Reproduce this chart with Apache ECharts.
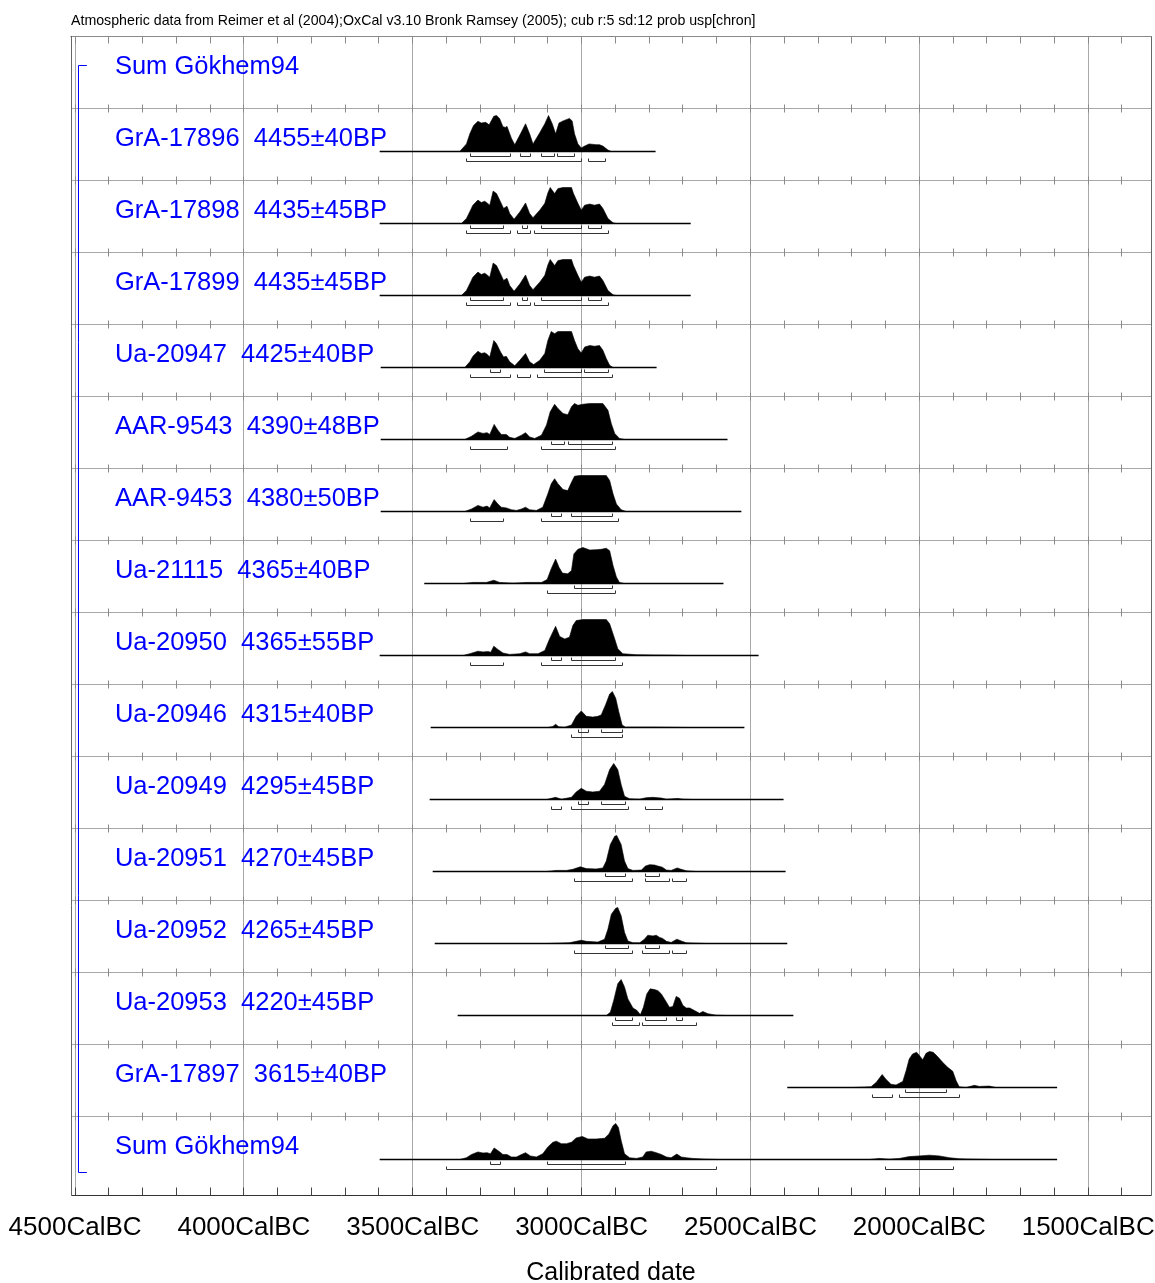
<!DOCTYPE html>
<html><head><meta charset="utf-8">
<script src="https://cdn.jsdelivr.net/npm/echarts@6/dist/echarts.min.js"></script>
<style>html,body{margin:0;padding:0;background:#fff}#c{width:1155px;height:1283px}</style>
</head><body><div id="c"></div>
<script>
// ---------- axis data (years BC) ----------
const xMinYear = 1314, xMaxYear = 4512;
const xLabelYears = [4500,4000,3500,3000,2500,2000,1500];
const xTickYears = [4500,4400,4300,4200,4100,4000,3900,3800,3700,3600,3500,3400,3300,3200,3100,3000,2900,2800,2700,2600,2500,2400,2300,2200,2100,2000,1900,1800,1700,1600,1500,1400];
const titleText = 'Atmospheric data from Reimer et al (2004);OxCal v3.10 Bronk Ramsey (2005); cub r:5 sd:12 prob usp[chron]';

// ---------- sample labels ----------
const sampleNames = ['Sum Gökhem94','GrA-17896','GrA-17898','GrA-17899','Ua-20947','AAR-9543','AAR-9453','Ua-21115','Ua-20950','Ua-20946','Ua-20949','Ua-20951','Ua-20952','Ua-20953','GrA-17897','Sum Gökhem94'];
const sampleDates = ['','4455±40BP','4435±45BP','4435±45BP','4425±40BP','4390±48BP','4380±50BP','4365±40BP','4365±55BP','4315±40BP','4295±45BP','4270±45BP','4265±45BP','4220±45BP','3615±40BP',''];

// ---------- distributions: years BC and relative probability ----------
const span_GrA17896 = [3598, 2781];
const yrs_GrA17896 = [3361,3341,3331,3320,3307,3297,3284,3274,3260,3252,3243,3233,3225,3221,3208,3198,3181,3166,3154,3144,3124,3109,3098,3087,3077,3067,3055,3036,3028,3021,3011,3001,2991,2978,2957,2947,2937,2922,2912];
const p_GrA17896 = [0,.21,.49,.72,.84,.79,.81,.74,.98,1,.92,.69,.67,.7,.37,.19,.49,.77,.49,.21,.52,.77,1,.77,.49,.79,.85,.92,.85,.49,.21,.1,.15,.21,.19,.19,.15,.04,0];
const r68_GrA17896 = [[3330,3210],[3180,3150],[3120,3080],[3070,3020]];
const r95_GrA17896 = [[3340,3000],[2980,2930]];

const span_GrA17898 = [3598, 2677];
const yrs_GrA17898 = [3356,3341,3329,3322,3307,3297,3287,3280,3272,3262,3252,3240,3231,3221,3213,3200,3183,3166,3154,3144,3124,3109,3100,3093,3080,3070,3055,3030,3024,3011,3001,2991,2976,2962,2947,2937,2922,2907,2897];
const p_GrA17898 = [0,.14,.37,.51,.65,.58,.62,.57,.51,.9,.83,.6,.42,.48,.28,.12,.32,.57,.28,.16,.37,.56,.85,1,.83,.97,1,1,.83,.56,.37,.51,.54,.51,.54,.42,.14,.02,0];
const r68_GrA17898 = [[3330,3230],[3175,3160],[3120,3000],[2980,2940]];
const r95_GrA17898 = [[3340,3210],[3190,3150],[3140,2920]];

const span_GrA17899 = [3598, 2677];
const yrs_GrA17899 = [3356,3341,3329,3322,3307,3297,3287,3280,3272,3262,3252,3240,3231,3221,3213,3200,3183,3166,3154,3144,3124,3109,3100,3093,3080,3070,3055,3030,3024,3011,3001,2991,2976,2962,2947,2937,2922,2907,2897];
const p_GrA17899 = [0,.14,.37,.51,.65,.58,.62,.57,.51,.9,.83,.6,.42,.48,.28,.12,.32,.57,.28,.16,.37,.56,.85,1,.83,.97,1,1,.83,.56,.37,.51,.54,.51,.54,.42,.14,.02,0];
const r68_GrA17899 = [[3330,3230],[3175,3160],[3120,3000],[2980,2940]];
const r95_GrA17899 = [[3340,3210],[3190,3150],[3140,2920]];

const span_Ua20947 = [3595, 2778];
const yrs_Ua20947 = [3346,3331,3322,3307,3297,3287,3280,3272,3260,3252,3240,3231,3223,3213,3198,3183,3166,3154,3142,3124,3109,3100,3090,3080,3070,3030,3021,3011,3001,2991,2976,2962,2947,2937,2927,2917,2907];
const p_Ua20947 = [0,.16,.31,.45,.39,.41,.37,.29,.75,.66,.43,.29,.31,.16,.05,.2,.39,.16,.08,.2,.39,.75,1,.94,1,1,.75,.52,.4,.57,.61,.59,.61,.48,.25,.06,0];
const r68_Ua20947 = [[3270,3240],[3110,3000],[2990,2920]];
const r95_Ua20947 = [[3330,3210],[3190,3150],[3130,2910]];

const span_AAR9543 = [3595, 2568];
const yrs_AAR9543 = [3346,3326,3307,3292,3280,3272,3259,3248,3238,3223,3213,3198,3178,3166,3154,3139,3119,3104,3093,3080,3070,3055,3041,3030,3021,3011,2996,2976,2937,2922,2912,2902,2888,2873];
const p_AAR9543 = [0,.09,.21,.17,.19,.14,.42,.26,.14,.14,.06,.03,.12,.19,.07,.03,.12,.4,.77,.98,.86,.72,.69,.91,1,.95,.98,1,1,.81,.44,.17,.03,0];
const r68_AAR9543 = [[3090,3050],[3040,2910]];
const r95_AAR9543 = [[3330,3220],[3120,2900]];

const span_AAR9453 = [3595, 2527];
const yrs_AAR9453 = [3346,3326,3307,3292,3280,3272,3259,3248,3238,3223,3208,3193,3178,3166,3154,3134,3115,3100,3090,3080,3070,3055,3041,3030,3021,3006,2927,2917,2907,2897,2883,2868];
const p_AAR9453 = [0,.07,.17,.12,.15,.1,.33,.21,.12,.1,.05,.03,.07,.12,.05,.03,.12,.49,.77,.91,.77,.61,.58,.81,.98,1,1,.86,.49,.21,.05,0];
const r68_AAR9453 = [[3090,3060],[3030,2910]];
const r95_AAR9453 = [[3330,3230],[3120,2890]];

const span_Ua21115 = [3466, 2580];
const yrs_Ua21115 = [3351,3322,3282,3260,3243,3203,3164,3119,3102,3090,3077,3067,3057,3041,3030,3023,3011,2996,2976,2957,2942,2927,2917,2907,2897,2888,2873];
const p_Ua21115 = [0,.03,.03,.09,.03,.01,.03,.03,.11,.41,.68,.45,.29,.27,.36,.82,.95,1,.93,.94,.95,.98,.91,.5,.18,.03,0];
const r68_Ua21115 = [[3020,2910]];
const r95_Ua21115 = [[3100,2900]];

const span_Ua20950 = [3598, 2476];
const yrs_Ua20950 = [3351,3331,3307,3292,3277,3269,3260,3248,3233,3213,3183,3166,3154,3129,3109,3095,3077,3065,3050,3036,3026,3016,2996,2927,2917,2902,2893,2878,2838,2740,2690];
const p_Ua20950 = [0,.05,.12,.1,.11,.09,.26,.17,.07,.03,.05,.1,.05,.05,.14,.46,.81,.53,.46,.51,.83,.97,1,1,.88,.46,.19,.05,.02,.01,0];
const r68_Ua20950 = [[3090,3060],[3030,2900]];
const r95_Ua20950 = [[3330,3230],[3120,2880]];

const span_Ua20946 = [3447, 2518];
const yrs_Ua20946 = [3100,3085,3077,3068,3050,3030,3016,3001,2986,2967,2952,2942,2929,2917,2909,2899,2890,2880,2870,2779,2680];
const p_Ua20946 = [0,.03,.09,.02,.01,.07,.31,.46,.31,.29,.31,.35,.63,.93,1,.81,.44,.07,.01,.01,0];
const r68_Ua20946 = [[3010,2980],[2940,2880]];
const r95_Ua20946 = [[3030,2880]];

const span_Ua20949 = [3450, 2402];
const yrs_Ua20949 = [3104,3077,3060,3030,3016,3001,2986,2967,2947,2932,2917,2905,2893,2883,2873,2858,2828,2809,2789,2764,2749,2715,2700,2671];
const p_Ua20949 = [0,.06,.01,.06,.21,.31,.23,.21,.23,.42,.83,1,.83,.42,.09,.02,.01,.05,.06,.04,.01,.03,.01,0];
const r68_Ua20949 = [[3010,2980],[2940,2870]];
const r95_Ua20949 = [[3090,3060],[3030,2860],[2810,2760]];

const span_Ua20951 = [3441, 2396];
const yrs_Ua20951 = [3104,3075,3045,3026,3004,2986,2957,2937,2927,2915,2902,2896,2883,2873,2863,2848,2823,2811,2799,2784,2774,2761,2749,2735,2717,2705,2690,2661];
const p_Ua20951 = [0,.03,.03,.06,.13,.08,.07,.1,.29,.75,.98,1,.75,.29,.08,.03,.04,.15,.19,.18,.15,.12,.04,.03,.1,.06,.02,0];
const r68_Ua20951 = [[2930,2870],[2810,2770]];
const r95_Ua20951 = [[3020,2850],[2810,2740],[2730,2690]];

const span_Ua20952 = [3435, 2391];
const yrs_Ua20952 = [3104,3036,3016,3001,2986,2952,2932,2922,2912,2899,2893,2883,2873,2863,2848,2828,2814,2804,2789,2779,2769,2760,2749,2735,2718,2705,2690,2661,2631];
const p_Ua20952 = [0,.02,.06,.09,.06,.04,.12,.4,.81,.98,1,.77,.31,.07,.02,.02,.12,.23,.21,.23,.17,.14,.06,.03,.12,.07,.02,.01,0];
const r68_Ua20952 = [[2930,2860],[2810,2770]];
const r95_Ua20952 = [[3020,2850],[2820,2740],[2730,2690]];

const span_Ua20953 = [3367, 2373];
const yrs_Ua20953 = [2927,2915,2905,2893,2883,2873,2863,2848,2836,2826,2817,2807,2797,2784,2774,2764,2752,2740,2730,2720,2710,2700,2690,2680,2666,2651,2641,2626,2602,2572];
const p_Ua20953 = [0,.09,.42,.88,1,.79,.46,.21,.14,.02,.23,.6,.74,.72,.69,.6,.42,.23,.25,.53,.48,.28,.21,.21,.14,.06,.11,.05,.01,0];
const r68_Ua20953 = [[2900,2850],[2810,2750],[2720,2700]];
const r95_Ua20953 = [[2910,2830],[2820,2660]];

const span_GrA17897 = [2391, 1592];
const yrs_GrA17897 = [2197,2143,2128,2110,2099,2084,2069,2049,2039,2030,2020,2008,2000,1990,1980,1970,1959,1946,1931,1916,1901,1891,1882,1862,1837,1822,1793,1773];
const p_GrA17897 = [0,.02,.14,.36,.23,.09,.07,.17,.47,.79,.93,.98,.89,.77,.95,1,.98,.86,.7,.56,.45,.19,.02,0,.06,.03,.04,0];
const r68_GrA17897 = [[2040,1920]];
const r95_GrA17897 = [[2140,2080],[2060,1880]];

const span_Sum = [3598, 1592];
const yrs_Sum = [3361,3341,3326,3307,3292,3280,3270,3259,3248,3233,3221,3208,3193,3178,3166,3152,3134,3115,3100,3085,3075,3060,3045,3030,3016,2998,2981,2957,2932,2919,2907,2899,2891,2883,2873,2858,2838,2819,2809,2794,2779,2764,2749,2735,2718,2705,2690,2671,2631,2592,2148,2118,2089,2059,2030,2000,1970,1941,1911,1882,1842,1783];
const p_Sum = [0,.05,.14,.21,.18,.19,.16,.32,.25,.14,.14,.07,.07,.14,.19,.1,.07,.16,.35,.48,.51,.44,.44,.48,.6,.64,.57,.57,.59,.71,.94,1,.89,.53,.16,.05,.03,.07,.21,.23,.19,.14,.07,.05,.15,.07,.05,.03,.01,0,0,.03,.01,.03,.08,.1,.12,.1,.05,.02,.01,0];
const r68_Sum = [[3270,3240],[3100,2870]];
const r95_Sum = [[3400,2600],[2100,1900]];

const dists = [
  null,
  {span: span_GrA17896, yrs: yrs_GrA17896, p: p_GrA17896, r68: r68_GrA17896, r95: r95_GrA17896},
  {span: span_GrA17898, yrs: yrs_GrA17898, p: p_GrA17898, r68: r68_GrA17898, r95: r95_GrA17898},
  {span: span_GrA17899, yrs: yrs_GrA17899, p: p_GrA17899, r68: r68_GrA17899, r95: r95_GrA17899},
  {span: span_Ua20947, yrs: yrs_Ua20947, p: p_Ua20947, r68: r68_Ua20947, r95: r95_Ua20947},
  {span: span_AAR9543, yrs: yrs_AAR9543, p: p_AAR9543, r68: r68_AAR9543, r95: r95_AAR9543},
  {span: span_AAR9453, yrs: yrs_AAR9453, p: p_AAR9453, r68: r68_AAR9453, r95: r95_AAR9453},
  {span: span_Ua21115, yrs: yrs_Ua21115, p: p_Ua21115, r68: r68_Ua21115, r95: r95_Ua21115},
  {span: span_Ua20950, yrs: yrs_Ua20950, p: p_Ua20950, r68: r68_Ua20950, r95: r95_Ua20950},
  {span: span_Ua20946, yrs: yrs_Ua20946, p: p_Ua20946, r68: r68_Ua20946, r95: r95_Ua20946},
  {span: span_Ua20949, yrs: yrs_Ua20949, p: p_Ua20949, r68: r68_Ua20949, r95: r95_Ua20949},
  {span: span_Ua20951, yrs: yrs_Ua20951, p: p_Ua20951, r68: r68_Ua20951, r95: r95_Ua20951},
  {span: span_Ua20952, yrs: yrs_Ua20952, p: p_Ua20952, r68: r68_Ua20952, r95: r95_Ua20952},
  {span: span_Ua20953, yrs: yrs_Ua20953, p: p_Ua20953, r68: r68_Ua20953, r95: r95_Ua20953},
  {span: span_GrA17897, yrs: yrs_GrA17897, p: p_GrA17897, r68: r68_GrA17897, r95: r95_GrA17897},
  {span: span_Sum, yrs: yrs_Sum, p: p_Sum, r68: r68_Sum, r95: r95_Sum}
];

// ---------- layout (styling) ----------
const ROWS = sampleNames.length;          // 16 rows, 1 unit each on y axis
const Y_MAX = 16.0972;                     // last row is a bit taller
const BASE_OFF = 43;                       // px below row top to baseline
const PEAK_H = 36;                         // px height of max probability
const LABEL_YEAR = 4382;                   // x position of row labels
const FONT = '"Liberation Sans", Arial, sans-serif';
const GRID_C = '#a8a8a8', TICK_C = '#8a8a8a', FRAME_C = '#666';

function crisp(v){ return Math.floor(v) + 0.5; }
function ln(x1,y1,x2,y2,c,w){ return {type:'line', shape:{x1,y1,x2,y2}, style:{stroke:c, lineWidth:w||1}, silent:true}; }

function renderFrame(params, api){
  const ch = [];
  const L = crisp(api.coord([xMaxYear,0])[0]), R = crisp(api.coord([xMinYear,0])[0]);
  const T = crisp(api.coord([4000,0])[1]), B = crisp(api.coord([4000,Y_MAX])[1]);
  for (let k = 1; k < ROWS; k++){
    const y = crisp(api.coord([4000,k])[1]);
    ch.push(ln(L,y,R,y,GRID_C));
  }
  xLabelYears.forEach(v=>{
    const x = crisp(api.coord([v,0])[0]);
    ch.push(ln(x,T,x,B,GRID_C));
  });
  xTickYears.forEach(v=>{
    const x = crisp(api.coord([v,0])[0]);
    ch.push(ln(x,T,x,T+7,TICK_C));
    for (let k = 1; k < ROWS; k++){
      const y = crisp(api.coord([4000,k])[1]);
      ch.push(ln(x,y-4,x,y+4,TICK_C));
    }
    ch.push(ln(x,B-8,x,B,'#444'));
  });
  ch.push(ln(L,T,R,T,'#8a8a8a'));
  ch.push(ln(L,T,L,B,FRAME_C));
  ch.push(ln(R,T,R,B,FRAME_C));
  ch.push(ln(L,B,R,B,'#333'));
  // blue group bracket
  const bx = crisp(api.coord([4491,0])[0]), bx2 = api.coord([4465,0])[0];
  const by1 = crisp(api.coord([4000,0.403])[1]), by2 = crisp(api.coord([4000,15.79])[1]);
  ch.push({type:'polyline', shape:{points:[[bx2,by1],[bx,by1],[bx,by2],[bx2,by2]]}, style:{stroke:'#0000ff', fill:null, lineWidth:1}, silent:true});
  return {type:'group', children: ch};
}

function renderRow(params, api){
  const i = params.dataIndex;
  const ch = [];
  const top = api.coord([4000,i])[1];
  const lx = api.coord([LABEL_YEAR,i])[0];
  const label = sampleDates[i] ? sampleNames[i] + '  ' + sampleDates[i] : sampleNames[i];
  ch.push({type:'text', silent:true, style:{text: label, x: lx, y: top + 31.2, fill:'#0000ff', font: '25.5px ' + FONT, align:'left', verticalAlign:'middle'}, z2: 10});
  const d = dists[i];
  if (d){
    const base = crisp(top + BASE_OFF);
    const X = v => api.coord([v,i])[0];
    const pts = [[X(d.yrs[0]), base]];
    d.yrs.forEach((v,j)=>pts.push([X(v), base - d.p[j]*PEAK_H]));
    pts.push([X(d.yrs[d.yrs.length-1]), base]);
    ch.push({type:'polygon', shape:{points: pts}, style:{fill:'#000', stroke:'#000', lineWidth:0.6}, silent:true});
    ch.push(ln(X(d.span[0]), base, X(d.span[1]), base, '#000', 1.3));
    const br = (r, y) => ({type:'polyline', silent:true, shape:{points:[[crisp(X(r[0])),y-3],[crisp(X(r[0])),y],[crisp(X(r[1])),y],[crisp(X(r[1])),y-3]]}, style:{stroke:'#333', fill:null, lineWidth:1}});
    d.r68.forEach(r=>ch.push(br(r, base + 5)));
    d.r95.forEach(r=>ch.push(br(r, base + 10)));
  }
  return {type:'group', children: ch};
}

const chart = echarts.init(document.getElementById('c'), null, {renderer:'canvas'});
chart.setOption({
  animation: false,
  backgroundColor: '#fff',
  textStyle: {fontFamily: FONT},
  title: {text: titleText, left: 71, top: 14, padding: 0, textStyle: {fontSize: 14.2, fontWeight: 'normal', color: '#000', fontFamily: FONT}},
  grid: {left: 71, right: 4, top: 36, bottom: 88, containLabel: false, outerBoundsMode: 'none'},
  xAxis: {
    type: 'value', min: xMinYear, max: xMaxYear, inverse: true,
    axisLine: {show: true, lineStyle: {color: '#333', width: 1}},
    axisTick: {show: false},
    splitLine: {show: false},
    axisLabel: {customValues: xLabelYears, formatter: v => v + 'CalBC', fontSize: 26, color: '#000', margin: 20, fontFamily: FONT},
    name: 'Calibrated date', nameLocation: 'middle', nameGap: 66,
    nameTextStyle: {fontSize: 25, color: '#000', fontFamily: FONT}
  },
  yAxis: {type: 'value', min: 0, max: Y_MAX, inverse: true, show: false},
  series: [
    {type: 'custom', coordinateSystem: 'cartesian2d', renderItem: renderFrame, data: [[4000, 0]], z: 1, silent: true},
    {type: 'custom', coordinateSystem: 'cartesian2d', renderItem: renderRow, data: sampleNames.map((n,i)=>[4000, i]), z: 2, silent: true}
  ]
});
</script>
</body></html>
